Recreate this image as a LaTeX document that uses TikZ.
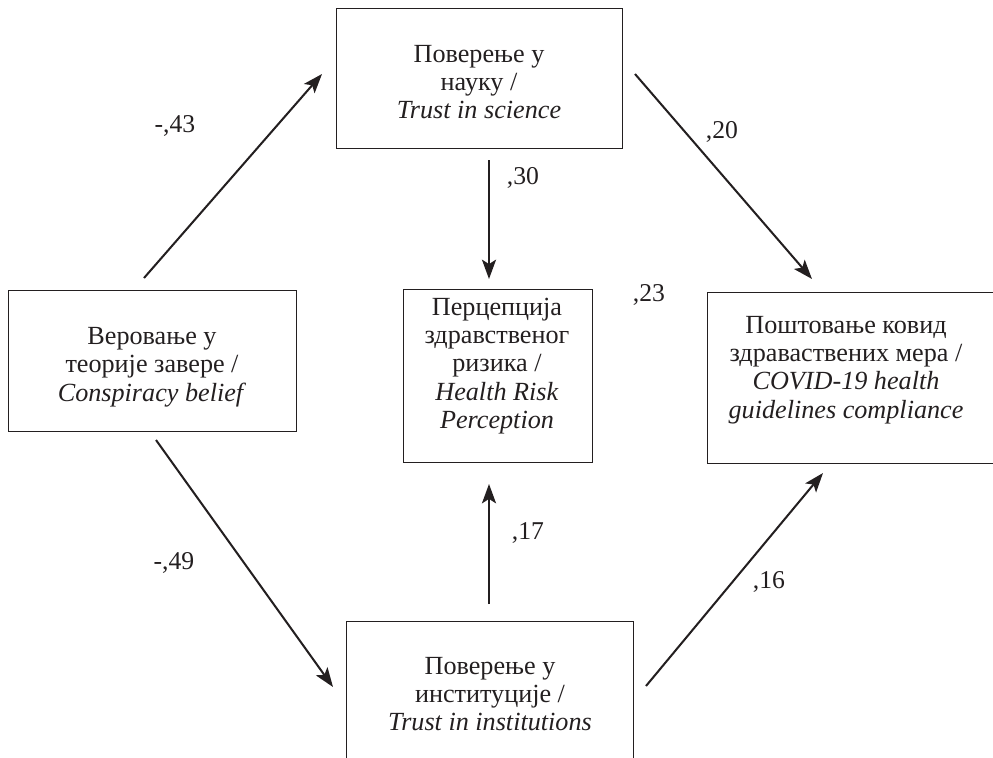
\documentclass[tikz,border=0pt]{standalone}
\usepackage{fontspec}
\setmainfont{Liberation Serif}
\usetikzlibrary{arrows.meta}

\definecolor{ink}{HTML}{231F20}

\tikzset{
    box/.style={draw=ink, line width=0.6pt, inner sep=0pt, anchor=north west},
    txt/.style={align=center, text=ink, font=\fontsize{14.9}{16.1}\selectfont},
    coef/.style={text=ink, font=\fontsize{14.6}{16.1}\selectfont},
    arr/.style={draw=ink, line width=1.15pt, -{Stealth[length=11pt,width=8pt,inset=2.5pt]}},
}

\begin{document}
\begin{tikzpicture}[x=0.02cm, y=-0.02cm]
    \useasboundingbox (0,0) rectangle (993,757);
    \clip (0,0) rectangle (993,757);

    % Boxes
    \node[box, minimum width=5.72cm, minimum height=2.80cm] (sci) at (336,8) {};
    \node[box, minimum width=5.76cm, minimum height=2.82cm] (consp) at (8,290) {};
    \node[box, minimum width=3.78cm, minimum height=3.46cm] (risk) at (403,289) {};
    \node[box, minimum width=6.06cm, minimum height=3.42cm] (comp) at (707,292) {};
    \node[box, minimum width=5.74cm, minimum height=3.18cm] (inst) at (346,621) {};

    % Box texts
    \node[txt] (sci-t) at (479,82) {Поверење у\\науку /\\\textit{Trust in science}};
    \node[txt] (consp-t) at (152,367) {Веровање у\\теорије завере /\\\textit{Conspiracy belief}};
    \node[txt] (risk-t) at (497,366) {Перцепција\\здравственог\\ризика /\\\textit{Health Risk}\\\textit{Perception}};
    \node[txt] (comp-t) at (846,370) {Поштовање ковид\\здраваствених мера /\\\textit{COVID-19 health}\\\textit{guidelines compliance}};
    \node[txt] (inst-t) at (490,694) {Поверење у\\институције /\\\textit{Trust in institutions}};

    % Arrow ends
    \coordinate (consp-up) at (144,278);
    \coordinate (sci-in) at (322,74);
    \coordinate (sci-out) at (635,74);
    \coordinate (comp-in) at (812,279);
    \coordinate (sci-down) at (489,160);
    \coordinate (risk-in) at (489,279);
    \coordinate (consp-down) at (156,440);
    \coordinate (inst-in) at (333,687);
    \coordinate (inst-up) at (489,604);
    \coordinate (risk-in2) at (489,484);
    \coordinate (inst-out) at (646,686);
    \coordinate (comp-in2) at (823,473);

    % Paths
    \draw[arr] (consp-up) -- (sci-in);
    \draw[arr] (sci-out) -- (comp-in);
    \draw[arr] (sci-down) -- (risk-in);
    \draw[arr] (consp-down) -- (inst-in);
    \draw[arr] (inst-up) -- (risk-in2);
    \draw[arr] (inst-out) -- (comp-in2);

    % Coefficients
    \node[coef] (c-cs) at (175,126) {-,43};
    \node[coef] (c-sc) at (722,132) {,20};
    \node[coef] (c-sr) at (523,178) {,30};
    \node[coef] (c-rc) at (649,295) {,23};
    \node[coef] (c-ci) at (174,563) {-,49};
    \node[coef] (c-ir) at (528,533) {,17};
    \node[coef] (c-ic) at (769,582) {,16};
\end{tikzpicture}
\end{document}
